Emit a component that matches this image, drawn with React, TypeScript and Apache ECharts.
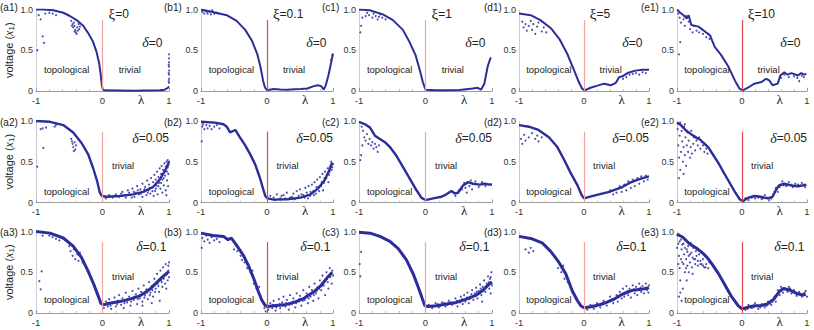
import React, { useEffect, useRef } from 'react';
import * as echarts from 'echarts';

type P = [number, number][];

// ---------- data: main curves (dense part of each point cloud) ----------
const A1_CURVE: P = [[-1,1.0],[-0.89,1.0],[-0.74,0.99],[-0.59,0.96],[-0.49,0.92],[-0.39,0.87],[-0.29,0.8],[-0.215,0.71],[-0.14,0.6],[-0.09,0.48],[-0.05,0.34],[-0.025,0.19],[-0.01,0.07],[0.005,0.016],[0.035,0.008],[0.46,0.004],[0.86,0.008],[0.935,0.016],[0.985,0.04],[1.0,0.057]];
const B1_CURVE: P = [[-1,1.0],[-0.82,0.97],[-0.61,0.93],[-0.46,0.86],[-0.33,0.75],[-0.23,0.62],[-0.15,0.46],[-0.1,0.3],[-0.06,0.13],[-0.03,0.04],[0,0.01],[0.1,0.025],[0.2,0.018],[0.31,0.016],[0.41,0.022],[0.51,0.025],[0.61,0.03],[0.71,0.06],[0.77,0.07],[0.82,0.06],[0.86,0.016],[0.89,0.07],[0.93,0.19],[0.97,0.34],[1.0,0.46]];
const C1_CURVE: P = [[-1,1.0],[-0.84,0.99],[-0.64,0.94],[-0.49,0.87],[-0.34,0.75],[-0.24,0.6],[-0.15,0.44],[-0.09,0.27],[-0.04,0.11],[0,0.016],[0.16,0.008],[0.35,0.01],[0.51,0.012],[0.71,0.03],[0.785,0.04],[0.835,0.016],[0.885,0.09],[0.935,0.3],[0.97,0.39],[0.985,0.41]];
const D1_CURVE: P = [[-1,0.95],[-0.82,0.93],[-0.67,0.87],[-0.51,0.77],[-0.38,0.64],[-0.26,0.46],[-0.15,0.25],[-0.08,0.11],[-0.03,0.03],[0.01,0.008],[0.1,0.04],[0.21,0.066],[0.31,0.09],[0.41,0.07],[0.49,0.1],[0.54,0.17],[0.59,0.18],[0.67,0.22],[0.79,0.25],[0.9,0.26],[1.0,0.26]];
const E1_CURVE: P = [[-1,1.0],[-0.95,0.96],[-0.9,0.93],[-0.85,0.89],[-0.82,0.93],[-0.78,0.81],[-0.67,0.79],[-0.57,0.73],[-0.49,0.68],[-0.42,0.54],[-0.32,0.44],[-0.21,0.3],[-0.11,0.13],[-0.04,0.03],[0.015,0.008],[0.09,0.04],[0.19,0.09],[0.3,0.11],[0.37,0.15],[0.42,0.13],[0.47,0.07],[0.55,0.09],[0.59,0.19],[0.65,0.23],[0.7,0.2],[0.76,0.22],[0.86,0.19],[0.91,0.22],[0.96,0.2],[0.99,0.21]];

const A2_CURVE: P = [[-1,1.0],[-0.79,0.99],[-0.59,0.95],[-0.44,0.86],[-0.315,0.73],[-0.215,0.59],[-0.14,0.42],[-0.08,0.26],[-0.04,0.12],[-0.01,0.08],[0.06,0.07],[0.26,0.08],[0.46,0.1],[0.61,0.13],[0.76,0.19],[0.86,0.28],[0.96,0.42],[1.0,0.5]];
const B2_CURVE: P = [[-1,0.99],[-0.79,0.98],[-0.66,0.96],[-0.61,0.93],[-0.56,0.86],[-0.48,0.89],[-0.41,0.8],[-0.33,0.7],[-0.26,0.6],[-0.18,0.47],[-0.11,0.31],[-0.06,0.17],[-0.026,0.08],[0.01,0.05],[0.1,0.035],[0.31,0.04],[0.51,0.06],[0.66,0.1],[0.77,0.17],[0.87,0.27],[0.94,0.39],[0.99,0.49]];
const C2_CURVE: P = [[-1,0.99],[-0.91,0.96],[-0.835,0.92],[-0.76,0.82],[-0.685,0.78],[-0.61,0.74],[-0.535,0.68],[-0.435,0.57],[-0.335,0.43],[-0.235,0.29],[-0.135,0.15],[-0.06,0.057],[0,0.03],[0.115,0.05],[0.24,0.07],[0.315,0.1],[0.39,0.14],[0.44,0.11],[0.49,0.12],[0.565,0.21],[0.64,0.25],[0.715,0.23],[0.815,0.22],[0.89,0.23],[0.965,0.22],[1.0,0.22]];
const D2_CURVE: P = [[-1,0.95],[-0.85,0.93],[-0.7,0.89],[-0.54,0.8],[-0.41,0.68],[-0.31,0.53],[-0.21,0.37],[-0.1,0.21],[-0.036,0.09],[0,0.05],[0.08,0.07],[0.23,0.1],[0.39,0.13],[0.49,0.16],[0.59,0.19],[0.7,0.24],[0.8,0.27],[0.9,0.3],[1.0,0.32]];
const E2_CURVE: P = [[-1,0.98],[-0.94,0.95],[-0.87,0.89],[-0.77,0.83],[-0.69,0.79],[-0.64,0.77],[-0.59,0.73],[-0.52,0.68],[-0.44,0.58],[-0.36,0.48],[-0.29,0.38],[-0.21,0.27],[-0.11,0.13],[-0.035,0.04],[0.015,0.016],[0.09,0.057],[0.19,0.08],[0.29,0.07],[0.39,0.05],[0.47,0.07],[0.52,0.15],[0.57,0.21],[0.65,0.23],[0.75,0.21],[0.85,0.2],[0.95,0.21],[0.99,0.22]];

const A3_CURVE: P = [[-1,1.0],[-0.79,0.98],[-0.59,0.92],[-0.44,0.82],[-0.315,0.68],[-0.215,0.51],[-0.13,0.35],[-0.065,0.21],[-0.025,0.12],[0.01,0.1],[0.11,0.12],[0.26,0.14],[0.41,0.17],[0.56,0.21],[0.71,0.29],[0.81,0.37],[0.91,0.45],[1.0,0.51]];
const B3_CURVE: P = [[-1,0.98],[-0.82,0.95],[-0.66,0.94],[-0.59,0.9],[-0.54,0.92],[-0.46,0.83],[-0.36,0.71],[-0.28,0.58],[-0.2,0.42],[-0.13,0.26],[-0.08,0.16],[-0.026,0.09],[0.01,0.08],[0.1,0.09],[0.26,0.1],[0.41,0.13],[0.56,0.18],[0.71,0.26],[0.82,0.34],[0.92,0.44],[0.99,0.5]];
const C3_CURVE: P = [[-1,0.99],[-0.835,0.98],[-0.685,0.94],[-0.535,0.88],[-0.41,0.79],[-0.285,0.65],[-0.185,0.48],[-0.11,0.32],[-0.05,0.18],[-0.01,0.09],[0.04,0.08],[0.165,0.09],[0.315,0.11],[0.465,0.13],[0.615,0.17],[0.765,0.22],[0.865,0.28],[0.965,0.36],[1.0,0.38]];
const D3_CURVE: P = [[-1,0.94],[-0.8,0.91],[-0.645,0.86],[-0.515,0.76],[-0.385,0.62],[-0.28,0.48],[-0.18,0.27],[-0.1,0.15],[-0.05,0.09],[0,0.065],[0.13,0.08],[0.28,0.11],[0.44,0.16],[0.59,0.23],[0.75,0.28],[0.88,0.29],[1.0,0.31]];
const E3_CURVE: P = [[-1,0.97],[-0.91,0.93],[-0.81,0.85],[-0.71,0.8],[-0.61,0.74],[-0.535,0.68],[-0.46,0.6],[-0.36,0.48],[-0.26,0.34],[-0.16,0.2],[-0.06,0.09],[0,0.05],[0.09,0.07],[0.19,0.09],[0.29,0.09],[0.39,0.11],[0.49,0.17],[0.57,0.26],[0.64,0.3],[0.74,0.28],[0.84,0.24],[0.94,0.22],[0.98,0.23]];

// ---------- data: scattered points ----------
const A1_DOTS: P = [[-0.47,0.86],[-0.45,0.82],[-0.44,0.78],[-0.42,0.8],[-0.41,0.75],[-0.4,0.72],[-0.38,0.78],[-0.37,0.74],[-0.36,0.82],[-0.35,0.76],[-0.43,0.84],[-0.39,0.7],[-0.34,0.79],[-0.46,0.8],[-0.42,0.73],[-0.96,0.93],[-0.93,0.88],[-0.9,0.67],[-0.98,0.5],[-0.88,0.59],[-0.86,0.95],[-0.8,0.96],[-0.75,0.95],[-0.7,0.93],[1,0.1],[1,0.15],[1,0.2],[1,0.25],[1,0.3],[1,0.35],[1,0.4],[1,0.45],[0.995,0.12],[0.995,0.22],[0.995,0.32]];
const B1_DOTS: P = [[-0.98,0.97],[-0.95,0.95],[-0.93,0.98],[-0.9,0.95],[-0.87,0.97],[-0.85,0.94],[-0.83,0.99],[-0.8,0.95],[-0.96,0.99],[-0.91,0.97],[-0.77,0.96],[-0.74,0.95],[0.97,0.38],[0.99,0.44]];
const C1_DOTS: P = [[-0.97,0.8],[-0.95,0.9],[-0.9,0.92],[-0.85,0.93],[-0.8,0.9],[-0.75,0.92],[-0.7,0.91],[-0.65,0.9],[-0.6,0.88],[-0.78,0.95],[-0.68,0.94],[-0.98,0.72],[-0.88,0.96],[-0.72,0.88]];
const D1_DOTS: P = [[-0.95,0.85],[-0.93,0.78],[-0.9,0.82],[-0.88,0.74],[-0.85,0.8],[-0.82,0.86],[-0.8,0.75],[-0.78,0.82],[-0.75,0.7],[-0.72,0.79],[-0.7,0.84],[-0.65,0.73],[-0.62,0.78],[-0.58,0.72],[0.6,0.15],[0.7,0.2],[0.8,0.22],[0.9,0.23],[0.85,0.2],[0.75,0.21],[0.65,0.17],[0.95,0.22]];
const E1_DOTS: P = [[-0.98,0.95],[-0.96,0.9],[-0.94,0.84],[-0.9,0.88],[-0.88,0.8],[-0.86,0.92],[-0.82,0.85],[-0.8,0.76],[-0.76,0.72],[-0.74,0.8],[-0.7,0.74],[-0.66,0.72],[-0.62,0.76],[-0.6,0.7],[-0.55,0.66],[-0.52,0.7],[-0.5,0.64],[-0.97,0.45],[-0.95,0.6],[0.6,0.16],[0.65,0.2],[0.72,0.17],[0.8,0.18],[0.85,0.16],[0.92,0.19],[0.88,0.12],[0.95,0.17]];

const A2_DOTS: P = [[-0.47,0.78],[-0.45,0.72],[-0.44,0.68],[-0.42,0.74],[-0.41,0.65],[-0.4,0.7],[-0.43,0.63],[-0.46,0.75],[-0.9,0.91],[-0.89,0.67],[-0.98,0.44],[-0.93,0.9],[-0.85,0.92],[-0.72,0.93],[-0.7,0.95],[0.3,0.13],[0.35,0.06],[0.38,0.15],[0.42,0.09],[0.45,0.17],[0.48,0.07],[0.5,0.12],[0.52,0.2],[0.55,0.1],[0.57,0.16],[0.6,0.07],[0.6,0.23],[0.62,0.13],[0.64,0.19],[0.66,0.09],[0.67,0.27],[0.69,0.15],[0.7,0.22],[0.72,0.11],[0.73,0.3],[0.74,0.18],[0.76,0.25],[0.77,0.08],[0.78,0.34],[0.79,0.14],[0.8,0.28],[0.81,0.21],[0.82,0.38],[0.83,0.1],[0.84,0.31],[0.85,0.24],[0.86,0.42],[0.87,0.17],[0.88,0.35],[0.89,0.45],[0.9,0.28],[0.9,0.12],[0.91,0.4],[0.92,0.21],[0.93,0.48],[0.94,0.33],[0.95,0.15],[0.95,0.44],[0.96,0.5],[0.97,0.27],[0.97,0.38],[0.98,0.52],[0.99,0.46],[1.0,0.5],[0.99,0.35],[0.985,0.2],[0.96,0.09],[0.05,0.05],[0.1,0.09],[0.15,0.06],[0.2,0.1],[0.25,0.07],[0.28,0.11],[0.33,0.09],[0.4,0.12],[0.44,0.06],[0.47,0.13],[0.53,0.15],[0.58,0.11],[0.63,0.16],[0.68,0.12],[0.71,0.18],[0.75,0.14],[0.8,0.17],[0.84,0.2],[0.88,0.24],[0.92,0.3],[0.94,0.38],[0.98,0.43]];
const B2_DOTS: P = [[-0.98,0.93],[-0.95,0.9],[-0.92,0.95],[-0.9,0.91],[-0.87,0.94],[-0.84,0.9],[-0.8,0.93],[-0.76,0.95],[-0.72,0.91],[-0.97,0.96],[-0.99,0.75],[0.05,0.08],[0.1,0.06],[0.15,0.1],[0.2,0.05],[0.25,0.09],[0.3,0.12],[0.35,0.06],[0.4,0.11],[0.45,0.14],[0.48,0.08],[0.5,0.16],[0.55,0.09],[0.58,0.18],[0.6,0.12],[0.63,0.2],[0.65,0.08],[0.68,0.22],[0.7,0.14],[0.72,0.25],[0.74,0.11],[0.76,0.28],[0.78,0.19],[0.8,0.31],[0.82,0.2],[0.84,0.35],[0.86,0.24],[0.88,0.38],[0.9,0.3],[0.92,0.42],[0.94,0.34],[0.96,0.45],[0.98,0.4],[1.0,0.47],[0.97,0.5],[0.85,0.15],[0.62,0.05],[0.93,0.25],[0.12,0.03],[0.22,0.08],[0.28,0.05],[0.38,0.07],[0.42,0.04],[0.52,0.1],[0.57,0.06],[0.66,0.13],[0.71,0.09],[0.75,0.19],[0.79,0.14],[0.83,0.25],[0.87,0.3],[0.91,0.34],[0.95,0.38],[0.99,0.43]];
const C2_DOTS: P = [[-0.98,0.52],[-0.97,0.58],[-0.95,0.7],[-0.92,0.8],[-0.9,0.76],[-0.88,0.84],[-0.86,0.72],[-0.84,0.78],[-0.82,0.7],[-0.8,0.74],[-0.78,0.66],[-0.76,0.72],[-0.74,0.68],[-0.72,0.62],[-0.7,0.7],[-0.94,0.88],[-0.96,0.93],[0.45,0.08],[0.5,0.15],[0.55,0.16],[0.6,0.18],[0.62,0.12],[0.66,0.2],[0.7,0.16],[0.75,0.26],[0.8,0.19],[0.85,0.25],[0.9,0.2],[0.68,0.27],[0.58,0.24]];
const D2_DOTS: P = [[-0.97,0.78],[-0.95,0.72],[-0.92,0.83],[-0.9,0.76],[-0.85,0.8],[-0.8,0.85],[-0.75,0.78],[-0.72,0.82],[-0.7,0.75],[-0.65,0.8],[0.5,0.12],[0.55,0.2],[0.58,0.13],[0.62,0.22],[0.65,0.15],[0.68,0.26],[0.72,0.18],[0.75,0.28],[0.78,0.2],[0.82,0.3],[0.85,0.23],[0.88,0.32],[0.92,0.26],[0.95,0.33],[0.98,0.28],[0.45,0.1],[0.4,0.15]];
const E2_DOTS: P = [[-0.99,0.9],[-0.98,0.7],[-0.97,0.55],[-0.96,0.82],[-0.95,0.4],[-0.94,0.62],[-0.93,0.88],[-0.92,0.75],[-0.91,0.5],[-0.9,0.68],[-0.89,0.93],[-0.88,0.58],[-0.87,0.8],[-0.86,0.45],[-0.85,0.7],[-0.84,0.86],[-0.83,0.62],[-0.82,0.76],[-0.8,0.55],[-0.79,0.68],[-0.78,0.88],[-0.77,0.6],[-0.75,0.72],[-0.74,0.8],[-0.72,0.64],[-0.7,0.76],[-0.68,0.7],[-0.66,0.8],[-0.64,0.66],[-0.62,0.74],[-0.6,0.7],[-0.58,0.62],[-0.55,0.66],[-0.53,0.6],[-0.97,0.3],[-0.9,0.35],[-0.99,0.97],[-0.95,0.98],[-0.88,0.96],[0.1,0.03],[0.2,0.05],[0.3,0.04],[0.35,0.09],[0.42,0.03],[0.48,0.1],[0.52,0.18],[0.55,0.13],[0.6,0.22],[0.62,0.26],[0.68,0.2],[0.72,0.25],[0.78,0.19],[0.82,0.23],[0.88,0.2],[0.92,0.24],[0.97,0.19],[0.05,0.05],[0.15,0.06],[0.25,0.06],[0.32,0.05],[0.38,0.06],[0.45,0.05],[0.5,0.13],[0.58,0.19],[0.64,0.21],[0.7,0.22],[0.76,0.22],[0.8,0.2],[0.86,0.22],[0.9,0.21],[0.95,0.22]];

const A3_DOTS: P = [[-0.48,0.76],[-0.45,0.7],[-0.43,0.78],[-0.41,0.66],[-0.38,0.72],[-0.36,0.64],[-0.34,0.74],[-0.5,0.82],[-0.3,0.62],[-0.95,0.39],[-0.93,0.29],[-0.915,0.51],[-0.9,0.95],[-0.8,0.95],[-0.7,0.91],[-0.75,0.93],[-0.65,0.89],[0.02,0.06],[0.05,0.14],[0.08,0.08],[0.1,0.17],[0.13,0.05],[0.15,0.12],[0.18,0.19],[0.2,0.08],[0.23,0.15],[0.25,0.22],[0.28,0.1],[0.3,0.18],[0.32,0.06],[0.35,0.25],[0.37,0.13],[0.4,0.2],[0.42,0.09],[0.45,0.27],[0.47,0.16],[0.5,0.23],[0.52,0.11],[0.54,0.3],[0.56,0.18],[0.58,0.26],[0.6,0.14],[0.62,0.34],[0.64,0.22],[0.66,0.29],[0.68,0.17],[0.7,0.38],[0.72,0.25],[0.74,0.33],[0.76,0.2],[0.78,0.42],[0.8,0.3],[0.82,0.48],[0.83,0.36],[0.85,0.26],[0.87,0.52],[0.88,0.4],[0.9,0.32],[0.91,0.56],[0.93,0.45],[0.94,0.36],[0.95,0.6],[0.97,0.48],[0.98,0.4],[0.99,0.58],[1.0,0.62],[1.0,0.44],[0.96,0.3],[0.86,0.15],[0.74,0.12],[0.6,0.09],[0.03,0.1],[0.07,0.12],[0.12,0.09],[0.17,0.13],[0.22,0.11],[0.27,0.15],[0.33,0.12],[0.38,0.17],[0.43,0.14],[0.48,0.2],[0.53,0.17],[0.57,0.22],[0.63,0.19],[0.67,0.25],[0.71,0.22],[0.75,0.28],[0.79,0.26],[0.84,0.33],[0.89,0.38],[0.92,0.42],[0.96,0.47],[0.99,0.52]];
const B3_DOTS: P = [[-0.98,0.92],[-0.95,0.88],[-0.92,0.95],[-0.9,0.9],[-0.87,0.86],[-0.84,0.93],[-0.8,0.89],[-0.76,0.91],[-0.72,0.87],[-0.99,0.8],[-0.5,0.78],[-0.45,0.76],[-0.4,0.7],[-0.38,0.65],[-0.34,0.62],[-0.3,0.55],[-0.25,0.5],[-0.22,0.52],[-0.2,0.36],[-0.16,0.3],[-0.12,0.32],[-0.1,0.2],[-0.06,0.14],[-0.04,0.06],[-0.02,0.02],[0.02,0.04],[0.05,0.12],[0.08,0.06],[0.1,0.15],[0.13,0.03],[0.15,0.1],[0.18,0.17],[0.2,0.06],[0.23,0.13],[0.25,0.2],[0.28,0.08],[0.3,0.16],[0.33,0.04],[0.35,0.22],[0.38,0.11],[0.4,0.18],[0.43,0.07],[0.45,0.24],[0.48,0.14],[0.5,0.21],[0.52,0.09],[0.55,0.28],[0.57,0.16],[0.6,0.24],[0.62,0.12],[0.64,0.32],[0.66,0.2],[0.68,0.28],[0.7,0.15],[0.72,0.36],[0.74,0.24],[0.76,0.31],[0.78,0.18],[0.8,0.4],[0.82,0.28],[0.84,0.46],[0.86,0.34],[0.88,0.22],[0.9,0.5],[0.92,0.38],[0.93,0.3],[0.95,0.55],[0.96,0.44],[0.98,0.36],[0.99,0.52],[1.0,0.46],[0.04,0.08],[0.09,0.1],[0.14,0.07],[0.19,0.11],[0.24,0.09],[0.29,0.12],[0.34,0.1],[0.39,0.14],[0.44,0.12],[0.49,0.17],[0.54,0.15],[0.59,0.2],[0.63,0.18],[0.67,0.24],[0.71,0.22],[0.75,0.27],[0.79,0.3],[0.83,0.33],[0.87,0.38],[0.91,0.42],[0.94,0.46],[0.97,0.49]];
const C3_DOTS: P = [[-0.99,0.6],[-0.98,0.45],[-0.97,0.75],[0.1,0.06],[0.15,0.12],[0.2,0.07],[0.25,0.13],[0.3,0.08],[0.35,0.15],[0.4,0.1],[0.45,0.18],[0.48,0.08],[0.5,0.15],[0.53,0.2],[0.56,0.11],[0.58,0.22],[0.6,0.14],[0.63,0.25],[0.65,0.12],[0.67,0.2],[0.7,0.28],[0.72,0.16],[0.74,0.24],[0.76,0.31],[0.78,0.18],[0.8,0.27],[0.82,0.35],[0.84,0.22],[0.86,0.32],[0.88,0.4],[0.9,0.26],[0.92,0.36],[0.94,0.45],[0.96,0.3],[0.97,0.42],[0.99,0.5],[1.0,0.34],[0.98,0.24],[0.85,0.14],[0.05,0.1],[0.12,0.08],[0.18,0.11],[0.22,0.09],[0.28,0.12],[0.33,0.1],[0.38,0.13],[0.43,0.12],[0.47,0.15],[0.52,0.13],[0.55,0.17],[0.62,0.19],[0.66,0.17],[0.69,0.23],[0.73,0.21],[0.77,0.26],[0.81,0.24],[0.83,0.3],[0.87,0.27],[0.91,0.33],[0.95,0.38],[0.98,0.44]];
const D3_DOTS: P = [[-0.9,0.78],[-0.85,0.74],[-0.82,0.8],[-0.78,0.76],[-0.4,0.55],[-0.35,0.5],[-0.3,0.42],[-0.32,0.58],[-0.25,0.38],[0.05,0.04],[0.1,0.1],[0.15,0.05],[0.2,0.12],[0.25,0.07],[0.3,0.15],[0.35,0.09],[0.4,0.2],[0.45,0.12],[0.5,0.22],[0.52,0.14],[0.55,0.26],[0.58,0.18],[0.6,0.3],[0.62,0.2],[0.65,0.33],[0.68,0.22],[0.7,0.3],[0.72,0.19],[0.75,0.34],[0.78,0.24],[0.8,0.32],[0.82,0.22],[0.85,0.36],[0.88,0.26],[0.9,0.33],[0.92,0.24],[0.95,0.36],[0.97,0.28],[1.0,0.34],[0.99,0.25],[0.08,0.07],[0.13,0.09],[0.18,0.08],[0.23,0.1],[0.28,0.12],[0.33,0.13],[0.38,0.15],[0.43,0.17],[0.48,0.18],[0.53,0.21],[0.57,0.23],[0.63,0.25],[0.67,0.27],[0.73,0.27],[0.77,0.29],[0.83,0.28],[0.87,0.31],[0.93,0.3],[0.96,0.31]];
const E3_DOTS: P = [[-0.99,0.95],[-0.98,0.85],[-0.97,0.7],[-0.96,0.55],[-0.95,0.4],[-0.94,0.9],[-0.93,0.78],[-0.92,0.62],[-0.91,0.3],[-0.9,0.85],[-0.89,0.72],[-0.88,0.5],[-0.87,0.9],[-0.86,0.66],[-0.85,0.78],[-0.84,0.58],[-0.83,0.82],[-0.82,0.7],[-0.8,0.62],[-0.79,0.86],[-0.78,0.74],[-0.77,0.56],[-0.75,0.8],[-0.74,0.66],[-0.72,0.6],[-0.71,0.76],[-0.7,0.7],[-0.68,0.58],[-0.66,0.72],[-0.64,0.64],[-0.62,0.6],[-0.6,0.66],[-0.58,0.56],[-0.55,0.6],[-0.52,0.55],[-0.5,0.62],[-0.97,0.2],[-0.93,0.15],[-0.95,0.25],[-0.85,0.4],[-0.98,0.6],[-1.0,0.8],[-0.82,0.5],[-0.76,0.48],[-0.96,0.88],[-0.92,0.84],[-0.88,0.8],[-0.84,0.75],[-0.8,0.72],[-0.76,0.68],[-0.72,0.66],[-0.68,0.64],[-0.64,0.6],[-0.6,0.58],[-0.56,0.56],[-0.94,0.66],[-0.9,0.6],[-0.86,0.55],[0.05,0.04],[0.1,0.1],[0.15,0.06],[0.2,0.12],[0.25,0.05],[0.3,0.11],[0.35,0.07],[0.4,0.14],[0.45,0.1],[0.5,0.2],[0.52,0.14],[0.55,0.28],[0.58,0.22],[0.6,0.32],[0.63,0.25],[0.66,0.3],[0.7,0.26],[0.72,0.32],[0.76,0.24],[0.8,0.28],[0.84,0.21],[0.88,0.26],[0.92,0.2],[0.96,0.25],[1.0,0.2],[0.98,0.27],[0.08,0.05],[0.13,0.08],[0.18,0.07],[0.23,0.09],[0.28,0.07],[0.33,0.1],[0.38,0.09],[0.43,0.12],[0.47,0.14],[0.54,0.22],[0.62,0.29],[0.68,0.29],[0.74,0.3],[0.78,0.26],[0.86,0.24],[0.9,0.23],[0.94,0.23]];

const CURVES: P[] = [A1_CURVE, B1_CURVE, C1_CURVE, D1_CURVE, E1_CURVE, A2_CURVE, B2_CURVE, C2_CURVE, D2_CURVE, E2_CURVE, A3_CURVE, B3_CURVE, C3_CURVE, D3_CURVE, E3_CURVE];
const DOTS: P[] = [A1_DOTS, B1_DOTS, C1_DOTS, D1_DOTS, E1_DOTS, A2_DOTS, B2_DOTS, C2_DOTS, D2_DOTS, E2_DOTS, A3_DOTS, B3_DOTS, C3_DOTS, D3_DOTS, E3_DOTS];

// ---------- labels ----------
const COL_LETTERS = ['a', 'b', 'c', 'd', 'e'];
const XI_VALUES = ['0', '0.1', '1', '5', '10'];
const DELTA_VALUES = ['0', '0.05', '0.1'];
const X_TICKS = [-1, 0, 1];
const Y_TICKS = [0, 0.5, 1];
const PHASE_BOUNDARY = 0;
const MARKER_TOP = 0.87;

// ---------- layout ----------
const GRID_LEFT = [36, 201, 359, 519, 677];
const GRID_WIDTH = [133, 132, 133, 130, 130];
const GRID_TOP = [9.5, 121, 231.5];
const GRID_H = 81.5;
const LABEL_LEFT = [0, 164, 322, 484, 641];
const BLUE = '#2b2e98';
const RED_COLORS = ['#f3a3a3', '#e2474c', '#f3a3a3', '#f3a3a3', '#e2474c'];
const LINE_W = [2, 2.4, 3];
const TOPO_Y = [0.26, 0.14, 0.16];
const TRIV = [[0.41, 0.26], [0.31, 0.45], [0.31, 0.45]];
const DELTA_POS = [[0.9, 0.59], [1.0, 0.79], [0.96, 0.81]];
const SANS = 'Liberation Sans, Arial, sans-serif';
const SERIF = 'Liberation Serif, Times New Roman, serif';

function px(c: number, x: number) {
  return GRID_LEFT[c] + ((x + 1) / 2) * GRID_WIDTH[c];
}
function py(r: number, y: number) {
  return GRID_TOP[r] + (1 - y) * GRID_H;
}

function txt(x: number, y: number, text: string, opts: any = {}) {
  const align = opts.align || 'center';
  const va = opts.verticalAlign || 'middle';
  return {
    type: 'text',
    x,
    y,
    rotation: opts.rotation || 0,
    silent: true,
    style: {
      text,
      fill: '#222',
      font: opts.font || `10px ${SANS}`,
      align,
      verticalAlign: va,
      textAlign: align,
      textVerticalAlign: va,
      rich: opts.rich,
    },
  };
}

function buildOption() {
  const grid: any[] = [];
  const xAxis: any[] = [];
  const yAxis: any[] = [];
  const series: any[] = [];
  const graphic: any[] = [];

  for (let r = 0; r < 3; r++) {
    for (let c = 0; c < 5; c++) {
      const i = r * 5 + c;
      grid.push({ left: GRID_LEFT[c], top: GRID_TOP[r], width: GRID_WIDTH[c], height: GRID_H });
      xAxis.push({
        gridIndex: i,
        type: 'value',
        min: X_TICKS[0],
        max: X_TICKS[X_TICKS.length - 1],
        interval: 1,
        axisLine: { show: true, onZero: false, lineStyle: { color: '#9c9c9c', width: 1 } },
        axisTick: { show: true, inside: true, length: 3, lineStyle: { color: '#999' } },
        minorTick: { show: true, splitNumber: 5, length: 2, lineStyle: { color: '#c4c4c4' } },
        splitLine: { show: false },
        axisLabel: { fontSize: 9.5, color: '#333', margin: 4, fontFamily: SANS },
      });
      yAxis.push({
        gridIndex: i,
        type: 'value',
        min: Y_TICKS[0],
        max: Y_TICKS[Y_TICKS.length - 1],
        interval: 0.5,
        axisLine: { show: true, onZero: false, lineStyle: { color: '#c4c4c4', type: 'dotted' } },
        axisTick: { show: false },
        splitLine: { show: false },
        axisLabel: {
          fontSize: 9,
          color: '#333',
          margin: 3,
          fontFamily: SANS,
          formatter: (v: number) => (v === 1 ? '1.0' : v === 0 ? '0' : '0.5'),
        },
      });
      series.push({
        type: 'line',
        xAxisIndex: i,
        yAxisIndex: i,
        data: CURVES[i],
        symbol: 'none',
        showSymbol: false,
        lineStyle: { color: BLUE, width: LINE_W[r] },
        z: 3,
        markLine: {
          silent: true,
          symbol: 'none',
          label: { show: false },
          lineStyle: { color: RED_COLORS[c], width: 1.2, type: 'solid' },
          data: [[{ coord: [PHASE_BOUNDARY, 0] }, { coord: [PHASE_BOUNDARY, MARKER_TOP] }]],
        },
      });
      series.push({
        type: 'scatter',
        xAxisIndex: i,
        yAxisIndex: i,
        data: DOTS[i],
        symbolSize: 2,
        itemStyle: { color: BLUE, opacity: 0.85 },
        z: 2,
      });

      // panel label
      const labelY = r === 0 ? 7 : GRID_TOP[r] + 1;
      graphic.push(txt(LABEL_LEFT[c], labelY, `(${COL_LETTERS[c]}${r + 1})`, { align: 'left', font: `10px ${SANS}` }));
      // lambda
      graphic.push(txt(px(c, 0.58), GRID_TOP[r] + GRID_H + 8, 'λ', { font: `13px ${SERIF}` }));
      // topological / trivial
      graphic.push(txt(px(c, -0.54), py(r, TOPO_Y[r]), 'topological', { font: `9.5px ${SANS}` }));
      graphic.push(txt(px(c, TRIV[r][0]), py(r, TRIV[r][1]), 'trivial', { font: `9.5px ${SANS}` }));
      // delta
      graphic.push(
        txt(px(c, DELTA_POS[r][0]), py(r, DELTA_POS[r][1]), `{g|δ}{n|=${DELTA_VALUES[r]}}`, {
          align: 'right',
          rich: {
            g: { fontFamily: SERIF, fontStyle: 'italic', fontSize: 14, fill: '#222', color: '#222' },
            n: { fontFamily: SANS, fontSize: 12, fill: '#222', color: '#222' },
          },
        })
      );
      if (r === 0) {
        graphic.push(
          txt(px(c, 0.09), 14, `{g|ξ}{n|=${XI_VALUES[c]}}`, {
            align: 'left',
            rich: {
              g: { fontFamily: SERIF, fontSize: 15, fill: '#222', color: '#222' },
              n: { fontFamily: SANS, fontSize: 12, fill: '#222', color: '#222' },
            },
          })
        );
      }
      if (c === 0) {
        graphic.push(
          txt(9, GRID_TOP[r] + GRID_H / 2, '{a|voltage (}{x|x}{s|1}{a|)}', {
            rotation: Math.PI / 2,
            rich: {
              a: { fontFamily: SANS, fontSize: 11, fill: '#222', color: '#222' },
              x: { fontFamily: SERIF, fontStyle: 'italic', fontSize: 12, fill: '#222', color: '#222' },
              s: { fontFamily: SANS, fontSize: 8, fill: '#222', color: '#222', verticalAlign: 'bottom', padding: [5, 0, 0, 0] },
            },
          })
        );
      }
    }
  }

  return { animation: false, backgroundColor: '#ffffff', grid, xAxis, yAxis, series, graphic };
}

export default function App() {
  const ref = useRef<HTMLDivElement>(null);
  useEffect(() => {
    if (!ref.current) return;
    const chart = echarts.init(ref.current, undefined, { renderer: 'svg' });
    chart.setOption(buildOption() as any);
    return () => chart.dispose();
  }, []);
  return (
    <div
      ref={ref}
      style={{ position: 'fixed', left: 0, top: 0, width: 814, height: 330, background: '#fff' }}
    />
  );
}
